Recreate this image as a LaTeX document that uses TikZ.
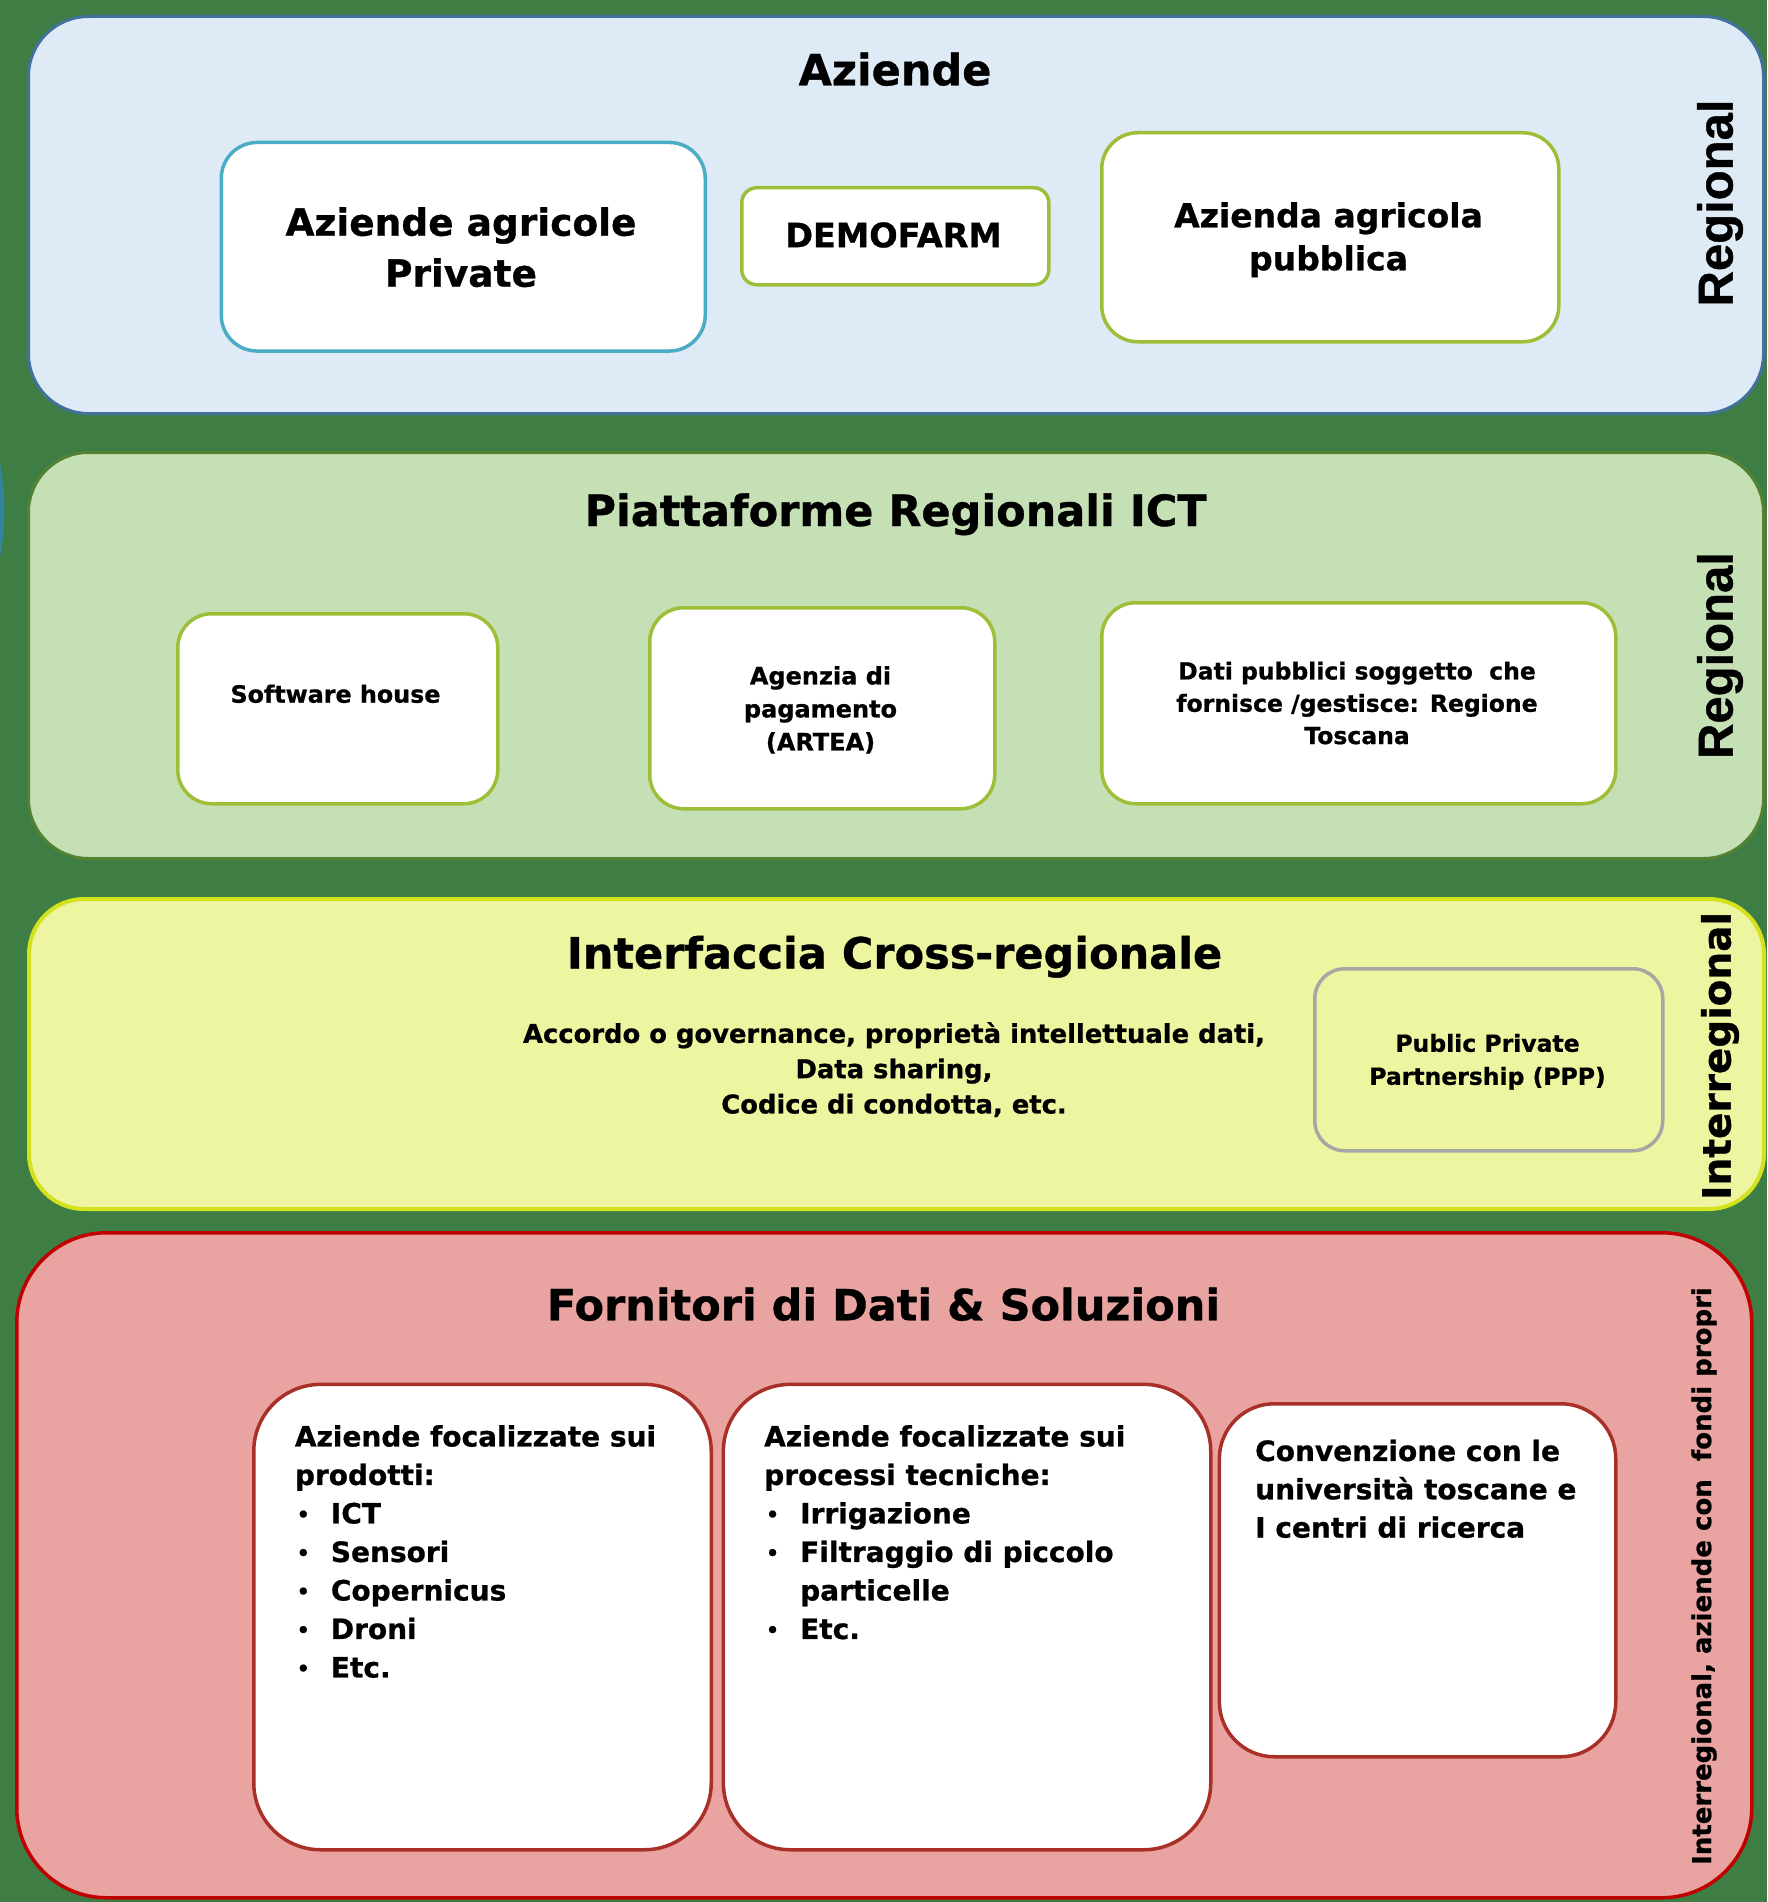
\documentclass[tikz,border=0pt]{standalone}
\usepackage{fontspec}
\setmainfont{DejaVu Sans}[BoldFeatures={FakeBold=0.8}]
\newfontfamily\arialfont{Liberation Sans}[BoldFeatures={FakeBold=0.8}]
\definecolor{bggreen}{RGB}{62,126,69}
\definecolor{tealblue}{RGB}{49,134,155}
\definecolor{p1fill}{RGB}{222,234,246}
\definecolor{p1line}{RGB}{65,113,156}
\definecolor{p2fill}{RGB}{197,224,180}
\definecolor{p2line}{RGB}{84,130,53}
\definecolor{p3fill}{RGB}{238,245,160}
\definecolor{p3line}{RGB}{212,226,30}
\definecolor{p4fill}{RGB}{233,163,160}
\definecolor{p4line}{RGB}{192,0,0}
\definecolor{cyanline}{RGB}{75,172,198}
\definecolor{oliveline}{RGB}{158,190,55}
\definecolor{grayline}{RGB}{166,166,166}
\definecolor{brickline}{RGB}{168,48,40}
\newcommand\myblt{\makebox[36pt][l]{\hspace*{2pt}\raisebox{2pt}{\fontsize{20}{20}\selectfont•}}}
\begin{document}
\begin{tikzpicture}[x=1pt,y=-1pt,
  panel/.style={draw, line width=3pt, inner sep=0pt, anchor=north west},
  card/.style={draw, fill=white, line width=3.5pt, inner sep=0pt, anchor=north west},
  lbl/.style={inner sep=0pt},
  ttl/.style={inner sep=0pt, anchor=base, font=\bfseries\fontsize{43}{50}\selectfont},
  vlbl/.style={inner sep=0pt, rotate=90},
]
\useasboundingbox (0,0) rectangle (1767,1902);
\fill[bggreen] (0,0) rectangle (1767,1902);
\begin{scope}
  \clip (0,0) rectangle (1767,1902);
  \fill[tealblue] (-243.5,510) circle (248pt);
\end{scope}

% ---------- Panel 1 : Aziende ----------
\node[panel, fill=p1fill, draw=p1line, rounded corners=60pt, minimum width=1735pt, minimum height=397pt] (p1) at (27,15) {};
\node[ttl] (t1) at (895,85.3) {Aziende};
\node[card, draw=cyanline, rounded corners=36pt, minimum width=484pt, minimum height=208.6pt] (ap) at (219.5,140.7) {};
\node[lbl, anchor=north, align=center, font=\bfseries\fontsize{37.5}{51}\selectfont] (apt) at (461,207) {Aziende agricole\\Private};
\node[card, draw=oliveline, rounded corners=15pt, minimum width=307pt, minimum height=97pt] (demo) at (740,186) {};
\node[lbl, anchor=base, font=\bfseries\fontsize{33.5}{40}\selectfont] (demot) at (893.5,247.2) {DEMOFARM};
\node[card, draw=oliveline, rounded corners=36pt, minimum width=457pt, minimum height=209pt] (pub) at (1100,131) {};
\node[lbl, anchor=north, align=center, font=\bfseries\fontsize{33}{43}\selectfont] (pubt) at (1328.5,202) {Azienda agricola\\pubblica};
\node[vlbl, font=\arialfont\bfseries\fontsize{49}{55}\selectfont] (r1) at (1720,203) {Regional};

% ---------- Panel 2 : Piattaforme ----------
\node[panel, fill=p2fill, draw=p2line, rounded corners=60pt, minimum width=1735pt, minimum height=406pt] (p2) at (27,451) {};
\node[ttl] (t2) at (895.6,526) {Piattaforme Regionali ICT};
\node[card, draw=oliveline, rounded corners=34pt, minimum width=320pt, minimum height=190pt] (sw) at (176,612) {};
\node[lbl, anchor=base, font=\bfseries\fontsize{23.8}{32}\selectfont] (swt) at (335.5,702.7) {Software house};
\node[card, draw=oliveline, rounded corners=34pt, minimum width=345pt, minimum height=201pt] (ag) at (648,606) {};
\node[lbl, anchor=north, align=center, font=\bfseries\fontsize{24}{33}\selectfont] (agt) at (820.5,666) {Agenzia di\\pagamento\\(ARTEA)};
\node[card, draw=oliveline, rounded corners=34pt, minimum width=514pt, minimum height=201pt] (dati) at (1100,601) {};
\node[lbl, anchor=north, align=center, font=\bfseries\fontsize{23.5}{32.3}\selectfont] (datit) at (1357,661.4) {Dati pubblici soggetto\ \ che\\fornisce /gestisce: Regione\\Toscana};
\node[vlbl, font=\arialfont\bfseries\fontsize{49}{55}\selectfont] (r2) at (1720,655.5) {Regional};

% ---------- Panel 3 : Interfaccia ----------
\node[panel, fill=p3fill, draw=p3line, line width=4pt, rounded corners=55pt, minimum width=1735pt, minimum height=310pt] (p3) at (27,897) {};
\node[ttl] (t3) at (894.5,968.5) {Interfaccia Cross-regionale};
\node[lbl, anchor=north, align=center, font=\bfseries\fontsize{25.8}{35.3}\selectfont] (acc) at (894,1022) {Accordo o governance, proprietà intellettuale dati,\\Data sharing,\\Codice di condotta, etc.};
\node[card, fill=none, draw=grayline, rounded corners=30pt, minimum width=348pt, minimum height=182pt] (ppp) at (1313,967) {};
\node[lbl, anchor=north, align=center, font=\bfseries\fontsize{23.5}{33}\selectfont] (pppt) at (1487.5,1033.7) {Public Private\\Partnership (PPP)};
\node[vlbl, font=\bfseries\fontsize{39}{44}\selectfont] (r3) at (1720,1056) {Interregional};

% ---------- Panel 4 : Fornitori ----------
\node[panel, fill=p4fill, draw=p4line, line width=3.5pt, rounded corners=90pt, minimum width=1735pt, minimum height=665pt] (p4) at (15,1231) {};
\node[ttl] (t4) at (883.5,1320.3) {Fornitori di Dati \& Soluzioni};
\node[card, draw=brickline, rounded corners=67pt, minimum width=457.5pt, minimum height=465.4pt] (b1) at (252,1382.6) {};
\node[lbl, anchor=north west, align=left, font=\bfseries\fontsize{28}{38.5}\selectfont] (b1t) at (294.7,1425) {Aziende focalizzate sui\\prodotti:\\\myblt ICT\\\myblt Sensori\\\myblt Copernicus\\\myblt Droni\\\myblt Etc.};
\node[card, draw=brickline, rounded corners=67pt, minimum width=487.4pt, minimum height=465.4pt] (b2) at (721.6,1382.6) {};
\node[lbl, anchor=north west, align=left, font=\bfseries\fontsize{28}{38.5}\selectfont] (b2t) at (764,1425) {Aziende focalizzate sui\\processi tecniche:\\\myblt Irrigazione\\\myblt Filtraggio di piccolo\\\hspace*{36pt}particelle\\\myblt Etc.};
\node[card, draw=brickline, rounded corners=55pt, minimum width=396.4pt, minimum height=353pt] (b3) at (1217.6,1402) {};
\node[lbl, anchor=north west, align=left, font=\bfseries\fontsize{28}{38.3}\selectfont] (b3t) at (1255,1439.5) {Convenzione con le\\università toscane e\\I centri di ricerca};
\node[vlbl, font=\bfseries\fontsize{26}{30}\selectfont] (r4) at (1704,1576) {Interregional, aziende con\ \ fondi propri};
\end{tikzpicture}
\end{document}
